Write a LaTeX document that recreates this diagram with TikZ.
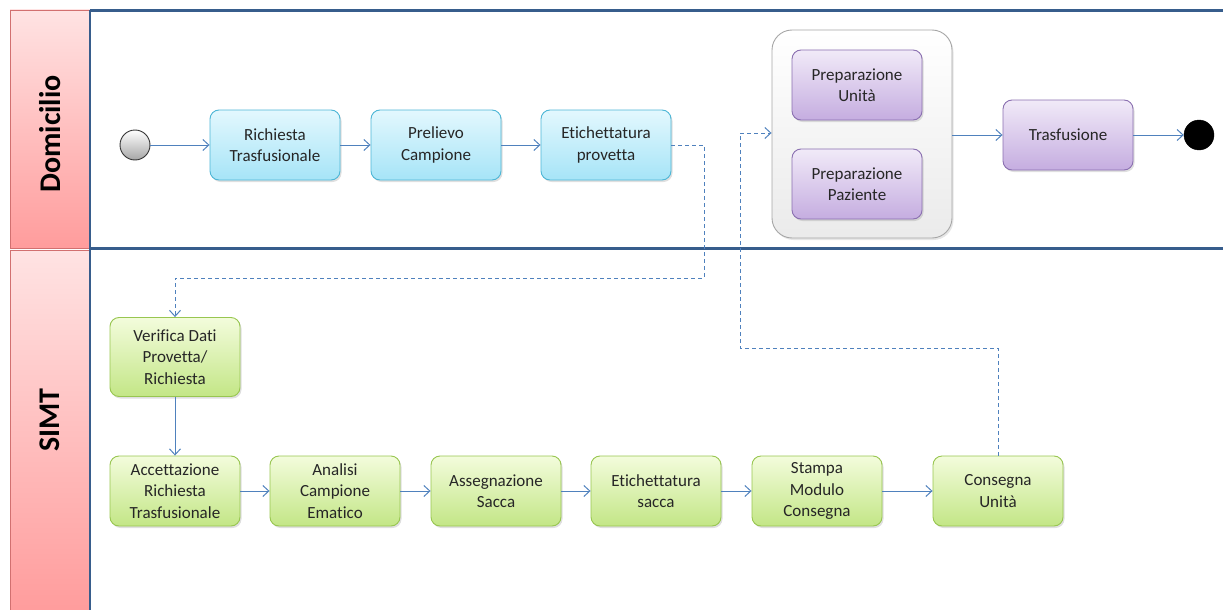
\documentclass[tikz,border=0pt]{standalone}
\usepackage{fontspec}
\setmainfont{Carlito}[Ligatures=NoCommon]
\usetikzlibrary{arrows.meta,shadows,positioning}
\definecolor{lanefrm}{HTML}{375D8C}
\definecolor{labfrm}{HTML}{D27070}
\definecolor{labtop}{HTML}{FFE3E3}
\definecolor{labbot}{HTML}{FF9C9C}
\definecolor{flow}{HTML}{4F81BD}
\definecolor{bltop}{HTML}{E3F8FE}
\definecolor{blbot}{HTML}{A6E4F7}
\definecolor{blfrm}{HTML}{4DB6D6}
\definecolor{pptop}{HTML}{F1EAF8}
\definecolor{ppbot}{HTML}{C5ADE0}
\definecolor{ppfrm}{HTML}{8A6FB0}
\definecolor{grtop}{HTML}{F3FCDC}
\definecolor{grbot}{HTML}{C3E686}
\definecolor{grfrm}{HTML}{98C650}
\tikzset{
  every node/.style={font=\fontsize{17pt}{21.5pt}\selectfont, align=center, text=black!85},
  act/.style={rounded corners=9pt, minimum width=130pt, minimum height=70pt, line width=0.9pt, inner sep=1pt,
    drop shadow={opacity=0.25, shadow xshift=1.5pt, shadow yshift=-2pt}},
  bluebox/.style={act, draw=blfrm, top color=bltop, bottom color=blbot},
  purplebox/.style={act, draw=ppfrm, top color=pptop, bottom color=ppbot},
  greenbox/.style={act, draw=grfrm, top color=grtop, bottom color=grbot},
  flowarrow/.style={draw=flow, line width=1pt, -{Straight Barb[length=6pt,width=11pt]}},
  msgarrow/.style={flowarrow, dashed, dash pattern=on 4pt off 3pt},
  lanelabel/.style={draw=labfrm, line width=0.8pt, top color=labtop, bottom color=labbot},
  lanetitle/.style={rotate=90, font=\fontsize{30pt}{34pt}\selectfont\bfseries, text=black},
}
\begin{document}
\begin{tikzpicture}[x=1pt, y=-1pt]
\useasboundingbox (0,0) rectangle (1223,610);

% swimlane labels
\path[lanelabel] (10,10) rectangle (90,248);
\path[lanelabel] (10,250) rectangle (90,612);
\node[lanetitle] (lblDom) at (50,134) {Domicilio};
\node[lanetitle] (lblSimt) at (50,420) {SIMT};

% swimlane frames
\draw[lanefrm, line width=3pt] (90,11) -- (1224,11);
\draw[lanefrm, line width=3pt] (90,248) -- (1224,248);
\draw[lanefrm, line width=1.4pt] (90,10) -- (90,612);

% Domicilio lane
\node[circle, minimum size=30pt, draw=black!80, line width=0.9pt, top color=white, bottom color=black!35] (start) at (135,145) {};
\node[bluebox] (richiesta) at (275,145) {Richiesta\\Trasfusionale};
\node[bluebox] (prelievo) at (436,145) {Prelievo\\Campione};
\node[bluebox] (etprov) at (606,145) {Etichettatura\\provetta};

\node[rounded corners=20pt, minimum width=180pt, minimum height=208pt, draw=black!35, line width=0.9pt,
      top color=white, bottom color=black!8,
      drop shadow={opacity=0.2, shadow xshift=1.5pt, shadow yshift=-2pt}] (prep) at (862,134) {};
\node[purplebox] (prepunita) at (857,85) {Preparazione\\Unità};
\node[purplebox] (preppaz) at (857,184) {Preparazione\\Paziente};
\node[purplebox] (trasf) at (1068,135) {Trasfusione};
\node[circle, minimum size=30pt, fill=black, draw=black] (stop) at (1199,135) {};

% SIMT lane
\node[greenbox, minimum height=79pt] (verifica) at (175,357) {Verifica Dati\\Provetta/\\Richiesta};
\node[greenbox] (accett) at (175,491) {Accettazione\\Richiesta\\Trasfusionale};
\node[greenbox] (analisi) at (335,491) {Analisi\\Campione\\Ematico};
\node[greenbox] (assegn) at (496,491) {Assegnazione\\Sacca};
\node[greenbox] (etsacca) at (656,491) {Etichettatura\\sacca};
\node[greenbox] (stampa) at (817,491) {Stampa\\Modulo\\Consegna};
\node[greenbox] (consegna) at (998,491) {Consegna\\Unità};

% sequence flows
\draw[flowarrow] (start) -- (richiesta);
\draw[flowarrow] (richiesta) -- (prelievo);
\draw[flowarrow] (prelievo) -- (etprov);
\draw[flowarrow] (prep.east |- trasf) -- (trasf);
\draw[flowarrow] (trasf) -- (stop);
\draw[flowarrow] (verifica) -- (accett);
\draw[flowarrow] (accett) -- (analisi);
\draw[flowarrow] (analisi) -- (assegn);
\draw[flowarrow] (assegn) -- (etsacca);
\draw[flowarrow] (etsacca) -- (stampa);
\draw[flowarrow] (stampa) -- (consegna);

% message flows between lanes
\draw[msgarrow] (etprov.east) -- (704,145) -- (704,278) -- (175,278) -- (verifica.north);
\draw[msgarrow] (consegna.north) -- (998,348) -- (740,348) -- (740,133) -- (prep.west |- 0,133);
\end{tikzpicture}
\end{document}
